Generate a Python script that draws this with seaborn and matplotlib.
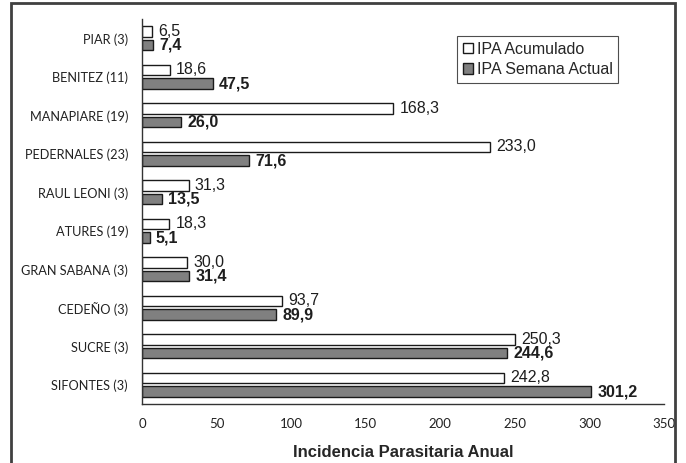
import numpy as np
import pandas as pd
import matplotlib
matplotlib.use("Agg")
import matplotlib.pyplot as plt
import seaborn as sns
from matplotlib.patches import Rectangle

# data
municipios = ['PIAR (3)', 'BENITEZ (11)', 'MANAPIARE (19)', 'PEDERNALES (23)',
              'RAUL LEONI (3)', 'ATURES (19)', 'GRAN SABANA (3)', 'CEDEÑO (3)',
              'SUCRE (3)', 'SIFONTES (3)']
ipa_acumulado = [6.5, 18.6, 168.3, 233.0, 31.3, 18.3, 30.0, 93.7, 250.3, 242.8]
ipa_semana = [7.4, 47.5, 26.0, 71.6, 13.5, 5.1, 31.4, 89.9, 244.6, 301.2]
series = ['IPA Acumulado', 'IPA Semana Actual']
xticks = [0, 50, 100, 150, 200, 250, 300, 350]

df = pd.DataFrame({
    'Municipio': municipios * 2,
    'Serie': [series[0]] * len(municipios) + [series[1]] * len(municipios),
    'IPA': ipa_acumulado + ipa_semana,
})

sns.set_style('white')
plt.rcParams['font.family'] = ['Liberation Sans', 'DejaVu Sans']

fig = plt.figure(figsize=(6.86, 4.63), dpi=100)
ax = fig.add_axes([142 / 686, 59 / 463, 522 / 686, 385 / 463])

sns.barplot(data=df, y='Municipio', x='IPA', hue='Serie', order=municipios,
            hue_order=series, palette=['white', '#808080'], orient='h',
            width=0.72, gap=0.25, edgecolor='#1a1a1a', linewidth=1.0,
            saturation=1, ax=ax)

# value labels with decimal comma
for cont, vals, wt in zip(ax.containers, [ipa_acumulado, ipa_semana], ['normal', 'bold']):
    ax.bar_label(cont, labels=[f"{v:.1f}".replace('.', ',') for v in vals],
                 padding=4.5, fontsize=11.5, fontweight=wt, color='#1e1e1e')

ax.set_xlim(0, 350)
ax.set_ylim(len(municipios) - 0.5, -0.5)
ax.set_xticks(xticks)
ax.set_xticklabels([str(t) for t in xticks], family='Lato', fontsize=9.5, color='#222222')
ax.set_yticks(range(len(municipios)))
ax.set_yticklabels(municipios, family='Lato', fontsize=9.2, color='#222222')
ax.set_yticks(np.arange(-0.5, len(municipios), 1), minor=True)
ax.tick_params(axis='y', which='major', length=0, pad=10)
ax.tick_params(axis='y', which='minor', length=4, direction='inout', width=1, color='#333333')
ax.tick_params(axis='x', length=4, direction='inout', width=1, color='#333333', pad=8)

ax.set_xlabel('Incidencia Parasitaria Anual', fontsize=12, fontweight='bold', labelpad=11)
ax.set_ylabel('')

sns.despine(ax=ax, top=True, right=True)
for s in ['left', 'bottom']:
    ax.spines[s].set_color('#333333')
    ax.spines[s].set_linewidth(1.0)

leg = ax.legend(loc='upper right', bbox_to_anchor=(0.912, 0.956), borderaxespad=0,
                fontsize=11.5, frameon=True, fancybox=False, handlelength=0.6,
                handleheight=0.6, handletextpad=0.25, labelspacing=0.35,
                borderpad=0.35)
leg.get_frame().set_edgecolor('#222222')
leg.get_frame().set_linewidth(0.8)

# outer frame around the chart
fig.patches.append(Rectangle((11 / 686, -0.02), 664 / 686, (460 / 463) + 0.02,
                             transform=fig.transFigure, fill=False,
                             edgecolor='#404040', linewidth=2))

fig.savefig('out.png', dpi=100)
